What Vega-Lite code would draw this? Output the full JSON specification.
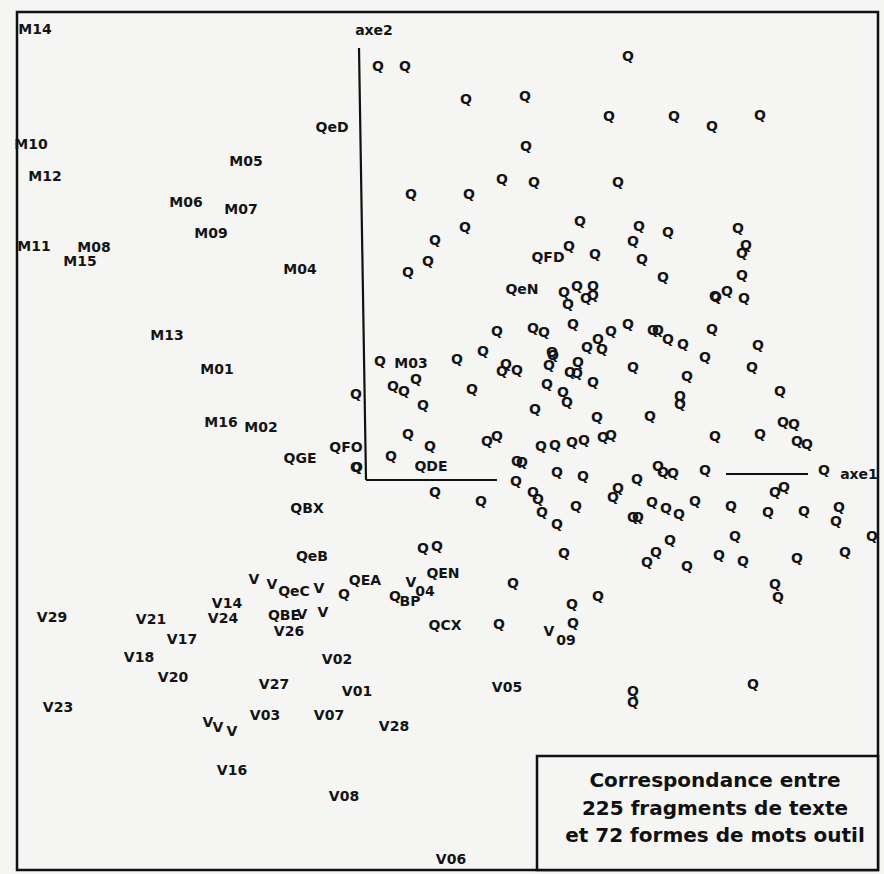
{
  "$schema": "https://vega.github.io/schema/vega-lite/v6.json",
  "autosize": "none",
  "width": 861,
  "height": 858,
  "padding": {"left": 17, "top": 12, "right": 6, "bottom": 4},
  "background": "#f5f5f3",
  "config": {"view": {"stroke": "#111", "strokeWidth": 2.5, "fill": "#f5f5f3"}},
  "datasets": {
    "segs": [
      {"x": -7, "x2": 0, "y": 432, "y2": 0},
      {"x": 0, "x2": 131, "y": 0, "y2": 0},
      {"x": 360, "x2": 442, "y": 6, "y2": 6}
    ],
    "box": [{"x": 171, "x2": 512, "y": -276, "y2": -390}],
    "title": [
      {"label": "Correspondance entre", "x": 349, "y": -301},
      {"label": "225 fragments de texte", "x": 349, "y": -329},
      {"label": "et 72 formes de mots outil", "x": 349, "y": -356}
    ],
    "pts": [
      {"label": "axe2", "x": 8, "y": 449},
      {"label": "axe1", "x": 493, "y": 5},
      {"label": "M14", "x": -331, "y": 450},
      {"label": "M10", "x": -335, "y": 335},
      {"label": "M12", "x": -321, "y": 303},
      {"label": "M05", "x": -120, "y": 318},
      {"label": "M06", "x": -180, "y": 277},
      {"label": "M07", "x": -125, "y": 270},
      {"label": "M09", "x": -155, "y": 246},
      {"label": "M11", "x": -332, "y": 233},
      {"label": "M08", "x": -272, "y": 232},
      {"label": "M15", "x": -286, "y": 218},
      {"label": "M04", "x": -66, "y": 210},
      {"label": "M13", "x": -199, "y": 144},
      {"label": "M01", "x": -149, "y": 110},
      {"label": "M16", "x": -145, "y": 57},
      {"label": "M02", "x": -105, "y": 52},
      {"label": "M03", "x": 45, "y": 116},
      {"label": "QeD", "x": -34, "y": 352},
      {"label": "QFD", "x": 182, "y": 222},
      {"label": "QeN", "x": 156, "y": 190},
      {"label": "QFO", "x": -20, "y": 32},
      {"label": "QDE", "x": 65, "y": 13},
      {"label": "QGE", "x": -66, "y": 21},
      {"label": "QBX", "x": -59, "y": -29},
      {"label": "QeB", "x": -54, "y": -77},
      {"label": "QEN", "x": 77, "y": -94},
      {"label": "QEA", "x": -1, "y": -101},
      {"label": "QeC", "x": -72, "y": -112},
      {"label": "QBE", "x": -82, "y": -136},
      {"label": "V", "x": -64, "y": -135},
      {"label": "Q", "x": 29, "y": -117},
      {"label": "BP", "x": 44, "y": -122},
      {"label": "QCX", "x": 79, "y": -146},
      {"label": "V", "x": -112, "y": -100},
      {"label": "V", "x": -94, "y": -105},
      {"label": "V", "x": -47, "y": -109},
      {"label": "V", "x": -43, "y": -133},
      {"label": "V", "x": 45, "y": -103},
      {"label": "04", "x": 59, "y": -112},
      {"label": "V", "x": 183, "y": -152},
      {"label": "09", "x": 200, "y": -161},
      {"label": "V14", "x": -139, "y": -124},
      {"label": "V24", "x": -143, "y": -139},
      {"label": "V26", "x": -77, "y": -152},
      {"label": "V29", "x": -314, "y": -138},
      {"label": "V21", "x": -215, "y": -140},
      {"label": "V17", "x": -184, "y": -160},
      {"label": "V18", "x": -227, "y": -178},
      {"label": "V20", "x": -193, "y": -198},
      {"label": "V27", "x": -92, "y": -205},
      {"label": "V23", "x": -308, "y": -228},
      {"label": "V03", "x": -101, "y": -236},
      {"label": "V", "x": -158, "y": -243},
      {"label": "V", "x": -148, "y": -248},
      {"label": "V", "x": -134, "y": -252},
      {"label": "V16", "x": -134, "y": -291},
      {"label": "V02", "x": -29, "y": -180},
      {"label": "V01", "x": -9, "y": -212},
      {"label": "V05", "x": 141, "y": -208},
      {"label": "V07", "x": -37, "y": -236},
      {"label": "V28", "x": 28, "y": -247},
      {"label": "V08", "x": -22, "y": -317},
      {"label": "V06", "x": 85, "y": -380},
      {"label": "Q", "x": 12, "y": 413},
      {"label": "Q", "x": 39, "y": 413},
      {"label": "Q", "x": 100, "y": 380},
      {"label": "Q", "x": 159, "y": 383},
      {"label": "Q", "x": 160, "y": 333},
      {"label": "Q", "x": 136, "y": 300},
      {"label": "Q", "x": 168, "y": 297},
      {"label": "Q", "x": 45, "y": 285},
      {"label": "Q", "x": 103, "y": 285},
      {"label": "Q", "x": 214, "y": 258},
      {"label": "Q", "x": 99, "y": 252},
      {"label": "Q", "x": 69, "y": 239},
      {"label": "Q", "x": 62, "y": 218},
      {"label": "Q", "x": 42, "y": 207},
      {"label": "Q", "x": 203, "y": 233},
      {"label": "Q", "x": 229, "y": 225},
      {"label": "Q", "x": 262, "y": 423},
      {"label": "Q", "x": 243, "y": 363},
      {"label": "Q", "x": 308, "y": 363},
      {"label": "Q", "x": 346, "y": 353},
      {"label": "Q", "x": 394, "y": 364},
      {"label": "Q", "x": 252, "y": 297},
      {"label": "Q", "x": 273, "y": 253},
      {"label": "Q", "x": 267, "y": 238},
      {"label": "Q", "x": 276, "y": 220},
      {"label": "Q", "x": 302, "y": 247},
      {"label": "Q", "x": 297, "y": 202},
      {"label": "Q", "x": 372, "y": 251},
      {"label": "Q", "x": 380, "y": 234},
      {"label": "Q", "x": 376, "y": 226},
      {"label": "Q", "x": 376, "y": 204},
      {"label": "Q", "x": 349, "y": 183},
      {"label": "Q", "x": 350, "y": 182},
      {"label": "Q", "x": 361, "y": 188},
      {"label": "Q", "x": 378, "y": 181},
      {"label": "Q", "x": 198, "y": 187},
      {"label": "Q", "x": 202, "y": 175},
      {"label": "Q", "x": 211, "y": 193},
      {"label": "Q", "x": 220, "y": 181},
      {"label": "Q", "x": 227, "y": 193},
      {"label": "Q", "x": 227, "y": 184},
      {"label": "Q", "x": 131, "y": 148},
      {"label": "Q", "x": 167, "y": 151},
      {"label": "Q", "x": 178, "y": 147},
      {"label": "Q", "x": 207, "y": 155},
      {"label": "Q", "x": 245, "y": 148},
      {"label": "Q", "x": 262, "y": 155},
      {"label": "Q", "x": 287, "y": 149},
      {"label": "Q", "x": 292, "y": 149},
      {"label": "Q", "x": 302, "y": 140},
      {"label": "Q", "x": 317, "y": 135},
      {"label": "Q", "x": 346, "y": 150},
      {"label": "Q", "x": 392, "y": 134},
      {"label": "Q", "x": 236, "y": 130},
      {"label": "Q", "x": 117, "y": 128},
      {"label": "Q", "x": 221, "y": 132},
      {"label": "Q", "x": 232, "y": 140},
      {"label": "Q", "x": 186, "y": 127},
      {"label": "Q", "x": 187, "y": 124},
      {"label": "Q", "x": 183, "y": 114},
      {"label": "Q", "x": 267, "y": 112},
      {"label": "Q", "x": 339, "y": 122},
      {"label": "Q", "x": 386, "y": 112},
      {"label": "Q", "x": 321, "y": 103},
      {"label": "Q", "x": 136, "y": 108},
      {"label": "Q", "x": 140, "y": 115},
      {"label": "Q", "x": 151, "y": 109},
      {"label": "Q", "x": 212, "y": 117},
      {"label": "Q", "x": 204, "y": 107},
      {"label": "Q", "x": 211, "y": 106},
      {"label": "Q", "x": 181, "y": 95},
      {"label": "Q", "x": 227, "y": 97},
      {"label": "Q", "x": 197, "y": 87},
      {"label": "Q", "x": 201, "y": 77},
      {"label": "Q", "x": 314, "y": 83},
      {"label": "Q", "x": 314, "y": 75},
      {"label": "Q", "x": 414, "y": 88},
      {"label": "Q", "x": 14, "y": 118},
      {"label": "Q", "x": -10, "y": 85},
      {"label": "Q", "x": 27, "y": 93},
      {"label": "Q", "x": 38, "y": 88},
      {"label": "Q", "x": 50, "y": 100},
      {"label": "Q", "x": 57, "y": 74},
      {"label": "Q", "x": 91, "y": 120},
      {"label": "Q", "x": 106, "y": 90},
      {"label": "Q", "x": 169, "y": 70},
      {"label": "Q", "x": 231, "y": 62},
      {"label": "Q", "x": 237, "y": 42},
      {"label": "Q", "x": 245, "y": 44},
      {"label": "Q", "x": 42, "y": 45},
      {"label": "Q", "x": 64, "y": 33},
      {"label": "Q", "x": -10, "y": 12},
      {"label": "Q", "x": -9, "y": 12},
      {"label": "Q", "x": 25, "y": 23},
      {"label": "Q", "x": 121, "y": 38},
      {"label": "Q", "x": 131, "y": 43},
      {"label": "Q", "x": 175, "y": 33},
      {"label": "Q", "x": 189, "y": 34},
      {"label": "Q", "x": 206, "y": 37},
      {"label": "Q", "x": 218, "y": 39},
      {"label": "Q", "x": 151, "y": 18},
      {"label": "Q", "x": 156, "y": 17},
      {"label": "Q", "x": 191, "y": 7},
      {"label": "Q", "x": 217, "y": 3},
      {"label": "Q", "x": 150, "y": -2},
      {"label": "Q", "x": 69, "y": -13},
      {"label": "Q", "x": 115, "y": -22},
      {"label": "Q", "x": 167, "y": -13},
      {"label": "Q", "x": 172, "y": -20},
      {"label": "Q", "x": 176, "y": -33},
      {"label": "Q", "x": 191, "y": -45},
      {"label": "Q", "x": 210, "y": -27},
      {"label": "Q", "x": 198, "y": -74},
      {"label": "Q", "x": 57, "y": -69},
      {"label": "Q", "x": 71, "y": -67},
      {"label": "Q", "x": 147, "y": -104},
      {"label": "Q", "x": -22, "y": -115},
      {"label": "Q", "x": 133, "y": -145},
      {"label": "Q", "x": 206, "y": -125},
      {"label": "Q", "x": 207, "y": -144},
      {"label": "Q", "x": 232, "y": -117},
      {"label": "Q", "x": 284, "y": 63},
      {"label": "Q", "x": 417, "y": 57},
      {"label": "Q", "x": 428, "y": 55},
      {"label": "Q", "x": 349, "y": 43},
      {"label": "Q", "x": 394, "y": 45},
      {"label": "Q", "x": 431, "y": 38},
      {"label": "Q", "x": 441, "y": 35},
      {"label": "Q", "x": 292, "y": 13},
      {"label": "Q", "x": 297, "y": 7},
      {"label": "Q", "x": 307, "y": 6},
      {"label": "Q", "x": 271, "y": 0},
      {"label": "Q", "x": 339, "y": 9},
      {"label": "Q", "x": 458, "y": 9},
      {"label": "Q", "x": 252, "y": -9},
      {"label": "Q", "x": 247, "y": -18},
      {"label": "Q", "x": 286, "y": -23},
      {"label": "Q", "x": 300, "y": -29},
      {"label": "Q", "x": 313, "y": -35},
      {"label": "Q", "x": 329, "y": -22},
      {"label": "Q", "x": 267, "y": -38},
      {"label": "Q", "x": 272, "y": -38},
      {"label": "Q", "x": 365, "y": -27},
      {"label": "Q", "x": 409, "y": -13},
      {"label": "Q", "x": 418, "y": -8},
      {"label": "Q", "x": 402, "y": -33},
      {"label": "Q", "x": 438, "y": -32},
      {"label": "Q", "x": 473, "y": -28},
      {"label": "Q", "x": 470, "y": -42},
      {"label": "Q", "x": 506, "y": -57},
      {"label": "Q", "x": 304, "y": -61},
      {"label": "Q", "x": 290, "y": -73},
      {"label": "Q", "x": 281, "y": -83},
      {"label": "Q", "x": 321, "y": -87},
      {"label": "Q", "x": 369, "y": -57},
      {"label": "Q", "x": 353, "y": -76},
      {"label": "Q", "x": 377, "y": -82},
      {"label": "Q", "x": 431, "y": -79},
      {"label": "Q", "x": 479, "y": -73},
      {"label": "Q", "x": 409, "y": -105},
      {"label": "Q", "x": 412, "y": -118},
      {"label": "Q", "x": 267, "y": -212},
      {"label": "Q", "x": 267, "y": -223},
      {"label": "Q", "x": 387, "y": -205}
    ]
  },
  "layer": [
    {
      "data": {"name": "segs"},
      "mark": {"type": "rule", "color": "#111", "strokeWidth": 2.2},
      "encoding": {
        "x": {"field": "x", "type": "quantitative", "scale": {"domain": [-349, 512], "nice": false, "zero": false}, "axis": null},
        "x2": {"field": "x2"},
        "y": {"field": "y", "type": "quantitative", "scale": {"domain": [-390, 468], "nice": false, "zero": false}, "axis": null},
        "y2": {"field": "y2"}
      }
    },
    {
      "data": {"name": "box"},
      "mark": {"type": "rect", "fill": "#f5f5f3", "stroke": "#111", "strokeWidth": 2.5},
      "encoding": {
        "x": {"field": "x", "type": "quantitative"},
        "x2": {"field": "x2"},
        "y": {"field": "y", "type": "quantitative"},
        "y2": {"field": "y2"}
      }
    },
    {
      "data": {"name": "pts"},
      "mark": {"type": "text", "font": "DejaVu Sans", "fontWeight": "bold", "fontSize": 14, "color": "#141414", "align": "center", "baseline": "middle"},
      "encoding": {
        "x": {"field": "x", "type": "quantitative"},
        "y": {"field": "y", "type": "quantitative"},
        "text": {"field": "label", "type": "nominal"}
      }
    },
    {
      "data": {"name": "title"},
      "mark": {"type": "text", "font": "DejaVu Sans", "fontWeight": "bold", "fontSize": 20, "color": "#111", "align": "center", "baseline": "middle"},
      "encoding": {
        "x": {"field": "x", "type": "quantitative"},
        "y": {"field": "y", "type": "quantitative"},
        "text": {"field": "label", "type": "nominal"}
      }
    }
  ]
}
